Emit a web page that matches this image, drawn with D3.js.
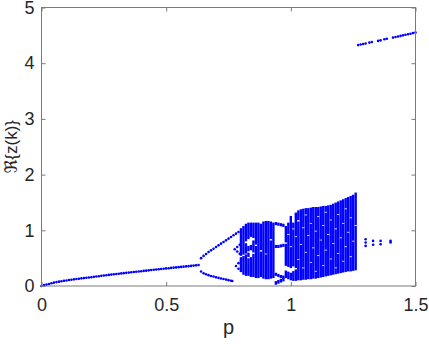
<!DOCTYPE html>
<html>
<head>
<meta charset="utf-8">
<script src="https://cdn.jsdelivr.net/npm/d3@7"></script>
<style>
  body { margin: 0; background: #fff; }
  svg { display: block; }
  .tick text { font-family: "Liberation Sans", Arial, sans-serif; font-size: 18px; fill: #262626; }
  .tick line { stroke: #7a7a7a; }
</style>
</head>
<body>
<div id="drawing_region"></div>
<script>
// p sweep and Re{z(k)} values
const stableP = [0.00,0.01,0.02,0.03,0.04,0.05,0.06,0.07,0.08,0.09,0.10,0.11,0.12,0.13,0.14,0.15,0.16,0.17,0.18,0.19,
  0.20,0.21,0.22,0.23,0.24,0.25,0.26,0.27,0.28,0.29,0.30,0.31,0.32,0.33,0.34,0.35,0.36,0.37,0.38,0.39,
  0.40,0.41,0.42,0.43,0.44,0.45,0.46,0.47,0.48,0.49,0.50,0.51,0.52,0.53,0.54,0.55,0.56,0.57,0.58,0.59,
  0.60,0.61,0.62,0.63];
const stableV = [0.000,0.015,0.025,0.035,0.050,0.060,0.070,0.078,0.086,0.093,0.100,0.107,0.113,0.119,0.125,0.131,0.137,0.142,0.148,0.153,
  0.158,0.164,0.170,0.176,0.182,0.188,0.193,0.199,0.205,0.210,0.216,0.221,0.226,0.231,0.236,0.241,0.246,0.251,0.256,0.261,
  0.266,0.271,0.276,0.281,0.286,0.291,0.296,0.301,0.306,0.311,0.316,0.320,0.325,0.329,0.334,0.338,0.343,0.347,0.352,0.356,
  0.361,0.366,0.371,0.376];

const upperP = [0.64,0.65,0.66,0.67,0.68,0.69,0.70,0.71,0.72,0.73,0.74,0.75,0.76,0.77,0.78,0.79];
const upperV = [0.50,0.54,0.575,0.61,0.64,0.67,0.70,0.73,0.76,0.79,0.82,0.85,0.88,0.91,0.94,0.97];

const lowerP = [0.64,0.65,0.66,0.67,0.68,0.69,0.70,0.71,0.72,0.73,0.74,0.75,0.76,0.765];
const lowerV = [0.26,0.23,0.21,0.195,0.18,0.17,0.155,0.145,0.135,0.125,0.115,0.105,0.095,0.09];

const wedgeP = [0.775,0.785,0.795,0.785,0.795,0.78,0.79,0.79,0.80,0.80];
const wedgeV = [0.66,0.70,0.74,0.62,0.58,0.36,0.41,0.31,0.46,0.27];

// chaotic band: for each p, the ranges of Re{z(k)} filled with points
const chaosP = [0.80,0.81,0.82,0.83,0.84,0.85,0.86,0.87,0.88,
  0.89,0.90,0.91,0.92,0.93,
  0.94,0.95,0.96,0.97,
  0.98,0.99,1.00,1.01,1.02,1.03,1.04,1.05,1.06,1.07,1.08,1.09,1.10,1.11,1.12,1.13,1.14,1.15,1.16,1.17,1.18,1.19,1.20,1.21,1.22,1.23,1.24,1.25,1.26];
const chaosRanges = [
  [[0.27,0.50],[0.56,1.02]],
  [[0.22,0.52],[0.58,1.06]],
  [[0.20,0.55],[0.60,0.75],[0.82,1.10]],
  [[0.20,0.48],[0.54,0.58],[0.64,0.70],[0.86,1.12]],
  [[0.18,0.50],[0.66,0.72],[0.90,1.12]],
  [[0.18,0.56],[0.62,0.80],[0.88,1.12]],
  [[0.16,0.70],[0.76,1.12]],
  [[0.16,1.12]],
  [[0.18,0.60],[0.66,1.10]],
  [[0.15,1.14]],
  [[0.14,0.55],[0.60,1.15]],
  [[0.14,1.15]],
  [[0.15,0.80],[0.86,1.14]],
  [[0.16,1.12]],
  [[0.04,0.07],[0.20,0.22],[0.70,0.72],[1.11,1.13]],
  [[0.06,0.09],[0.18,0.20],[0.70,0.72],[1.10,1.12]],
  [[0.08,0.11],[0.16,0.18],[0.71,0.73],[1.09,1.11]],
  [[0.10,0.13],[0.15,0.17],[0.72,0.74],[1.08,1.10]],
  [[0.16,0.26],[0.38,0.74],[0.80,1.06]],
  [[0.14,0.24],[0.36,0.90],[0.95,1.12]],
  [[0.12,0.22],[0.34,0.68],[0.73,1.24]],
  [[0.11,0.25],[0.37,1.00],[1.05,1.12]],
  [[0.11,0.28],[0.34,0.86],[0.91,1.30]],
  [[0.12,0.45],[0.50,1.14],[1.20,1.34]],
  [[0.12,0.72],[0.77,1.36]],
  [[0.13,0.30],[0.35,1.02],[1.07,1.37]],
  [[0.13,0.58],[0.63,1.25],[1.30,1.38]],
  [[0.14,0.88],[0.93,1.38]],
  [[0.14,0.40],[0.45,1.10],[1.15,1.39]],
  [[0.15,0.66],[0.71,1.40]],
  [[0.15,0.24],[0.29,0.96],[1.01,1.40]],
  [[0.16,0.52],[0.57,1.22],[1.27,1.40]],
  [[0.17,0.80],[0.85,1.41]],
  [[0.18,0.34],[0.39,1.06],[1.11,1.42]],
  [[0.19,0.62],[0.67,1.30],[1.35,1.42]],
  [[0.20,0.90],[0.95,1.43]],
  [[0.21,0.46],[0.51,1.16],[1.21,1.44]],
  [[0.22,0.74],[0.79,1.46]],
  [[0.23,0.30],[0.35,1.00],[1.05,1.48]],
  [[0.24,0.56],[0.61,1.26],[1.31,1.50]],
  [[0.25,0.84],[0.89,1.52]],
  [[0.26,0.42],[0.47,1.10],[1.15,1.54]],
  [[0.27,0.68],[0.73,1.36],[1.41,1.56]],
  [[0.28,0.94],[0.99,1.58]],
  [[0.28,0.50],[0.55,1.20],[1.25,1.60]],
  [[0.29,0.78],[0.83,1.62]],
  [[0.30,1.06],[1.11,1.66]]
];

const sparseP = [1.30,1.30,1.30,1.33,1.33,1.36,1.36,1.40,1.40];
const sparseV = [0.84,0.78,0.72,0.81,0.74,0.81,0.75,0.81,0.78];

const escapeP = [1.27,1.28,1.29,1.30,1.315,1.325,1.35,1.36,1.375,1.385,1.41,1.42,1.43,1.44,1.45,1.46,1.47,1.48,1.49,1.50];
const escapeV = [4.325,4.335,4.345,4.355,4.37,4.38,4.40,4.41,4.43,4.44,4.46,4.47,4.48,4.49,4.50,4.51,4.52,4.53,4.54,4.55];

const xTicks = [0, 0.5, 1, 1.5];
const yTicks = [0, 1, 2, 3, 4, 5];

const width = 429, height = 344;
const margin = { top: 7.5, right: 13.5, bottom: 58, left: 41.5 };
const innerW = width - margin.left - margin.right;
const innerH = height - margin.top - margin.bottom;
const blue = "#0000ff";

const svg = d3.select("#drawing_region").append("svg")
  .attr("width", width)
  .attr("height", height);

const chart = svg.append("g")
  .attr("transform", `translate(${margin.left}, ${margin.top})`);

const x = d3.scaleLinear().domain([0, 1.5]).range([0, innerW]);
const y = d3.scaleLinear().domain([0, 5]).range([innerH, 0]);
const fmt = d => String(d);

// chaotic columns
chart.append("g").selectAll("g")
  .data(chaosP.map((p, i) => ({ p, ranges: chaosRanges[i] })))
  .join("g")
  .each(function(d) {
    d3.select(this).selectAll("rect")
      .data(d.ranges)
      .join("rect")
      .attr("x", x(d.p) - 1.2)
      .attr("width", 2.4)
      .attr("y", r => y(r[1]) - 1)
      .attr("height", r => y(r[0]) - y(r[1]) + 2)
      .attr("fill", blue);
  });

// isolated points
const pts = [];
[[stableP, stableV], [upperP, upperV], [lowerP, lowerV], [wedgeP, wedgeV],
 [sparseP, sparseV], [escapeP, escapeV]].forEach(([ps, vs]) => {
  ps.forEach((p, i) => pts.push([p, vs[i]]));
});

chart.append("g").selectAll("circle")
  .data(pts)
  .join("circle")
  .attr("cx", d => x(d[0]))
  .attr("cy", d => y(d[1]))
  .attr("r", 1.3)
  .attr("fill", blue);

// axes (inward ticks, MATLAB box style)
chart.append("g")
  .attr("transform", `translate(0, ${innerH})`)
  .call(d3.axisBottom(x).tickValues(xTicks).tickFormat(fmt).tickSizeInner(-4).tickSizeOuter(0).tickPadding(12))
  .call(g => g.select(".domain").remove());
chart.append("g")
  .call(d3.axisTop(x).tickValues(xTicks).tickFormat("").tickSizeInner(-4).tickSizeOuter(0))
  .call(g => g.select(".domain").remove());
chart.append("g")
  .call(d3.axisLeft(y).tickValues(yTicks).tickFormat(fmt).tickSizeInner(-4).tickSizeOuter(0).tickPadding(7))
  .call(g => g.select(".domain").remove());
chart.append("g")
  .attr("transform", `translate(${innerW}, 0)`)
  .call(d3.axisRight(y).tickValues(yTicks).tickFormat("").tickSizeInner(-4).tickSizeOuter(0))
  .call(g => g.select(".domain").remove());

chart.append("rect")
  .attr("width", innerW)
  .attr("height", innerH)
  .attr("fill", "none")
  .attr("stroke", "#7a7a7a")
  .attr("stroke-width", 1);

svg.append("text")
  .attr("x", margin.left + innerW / 2)
  .attr("y", 334)
  .attr("text-anchor", "middle")
  .style("font-family", "'Liberation Sans', Arial, sans-serif")
  .style("font-size", "20px")
  .attr("fill", "#262626")
  .text("p");

svg.append("text")
  .attr("transform", `translate(17, ${margin.top + innerH / 2}) rotate(-90)`)
  .attr("text-anchor", "middle")
  .style("font-family", "'Liberation Sans', 'DejaVu Sans', Arial, sans-serif")
  .style("font-size", "17px")
  .attr("fill", "#262626")
  .text("ℜ{z(k)}");
</script>
</body>
</html>
